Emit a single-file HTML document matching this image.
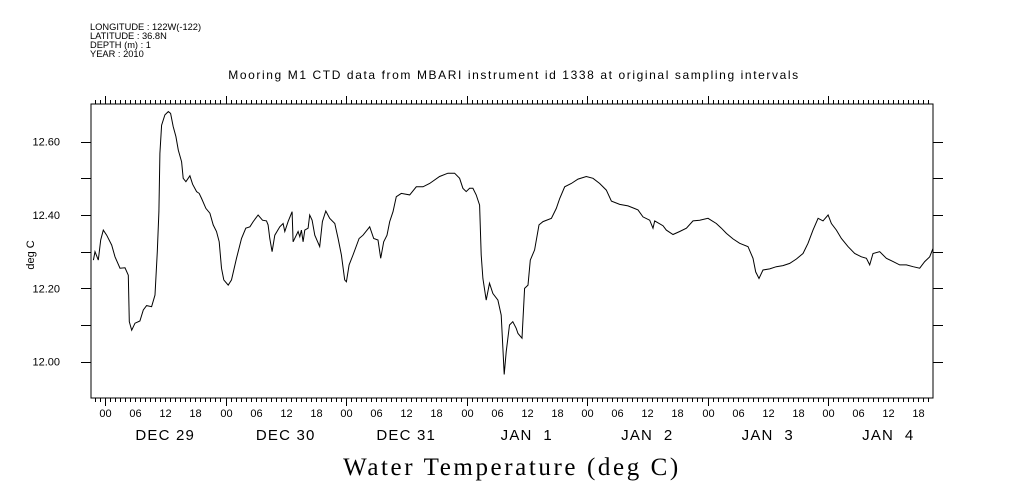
<!DOCTYPE html>
<html><head><meta charset="utf-8"><style>
html,body{margin:0;padding:0;background:#fff;}
svg{display:block;font-family:"Liberation Sans",sans-serif;}
text{white-space:pre;}
</style></head><body>
<svg id="chart" width="1009" height="504" viewBox="0 0 1009 504">
<g font-size="9.3" fill="#000">
<text x="90" y="30">LONGITUDE : 122W(-122)</text>
<text x="90" y="39">LATITUDE : 36.8N</text>
<text x="90" y="48">DEPTH (m) : 1</text>
<text x="90" y="57">YEAR : 2010</text>
</g>
<text x="514" y="79" font-size="12" text-anchor="middle" letter-spacing="1.6">Mooring M1 CTD data from MBARI instrument id 1338 at original sampling intervals</text>
<text transform="translate(34,255) rotate(-90)" font-size="11" text-anchor="middle">deg C</text>
<text x="512" y="475" font-family="'Liberation Serif',serif" font-size="25" text-anchor="middle" letter-spacing="2.6">Water Temperature (deg C)</text>
<rect x="91" y="104" width="842" height="294" fill="none" stroke="#000" stroke-width="1"/>
<g id="axes"></g>
<path id="series" fill="none" stroke="#000" stroke-width="1"/>
</svg>
<script>
const hours = [-2.32,-1.99,-1.33,-0.86,-0.33,0.33,1.33,1.99,2.98,3.98,4.64,4.84,5.31,5.97,6.96,7.63,8.29,9.28,9.95,10.41,10.74,10.94,11.27,11.94,12.60,13.06,13.59,14.12,14.59,15.25,15.58,16.11,16.91,17.44,18.24,18.77,19.23,20.09,20.89,21.55,22.21,22.75,23.21,23.67,24.54,25.20,26.19,27.19,28.05,28.85,29.51,30.50,31.37,32.16,32.49,32.82,33.29,33.82,34.81,35.48,35.81,36.47,37.27,37.47,38.46,38.79,39.12,39.46,39.79,40.45,40.78,41.25,41.78,42.77,43.30,43.97,44.76,45.76,46.42,47.08,47.75,48.08,48.61,49.40,50.60,51.39,52.72,53.51,54.38,54.91,55.50,56.17,56.70,57.36,58.02,59.02,60.68,62.00,63.33,64.66,66.64,68.30,69.63,70.62,71.29,71.95,72.61,73.28,73.94,74.60,74.93,75.27,75.93,76.59,77.25,78.25,78.91,79.24,79.51,79.91,80.57,81.23,81.90,82.25,83.05,83.58,84.25,84.71,85.57,86.44,87.24,88.90,89.89,90.56,91.55,92.88,94.21,95.87,97.20,98.52,99.85,100.85,102.51,104.17,106.16,107.16,108.48,109.15,109.48,111.14,111.80,113.13,114.46,115.79,117.12,118.44,120.10,121.76,122.76,123.76,125.08,126.41,128.07,129.07,129.60,130.26,131.06,132.39,133.71,135.04,136.37,137.70,139.03,140.02,141.02,142.02,143.01,144.01,144.67,145.67,146.66,147.99,149.32,150.65,151.64,152.31,152.97,154.30,155.63,156.96,158.28,159.61,160.94,162.27,163.26,164.26,164.92];
const temps = [12.277,12.300,12.277,12.332,12.359,12.345,12.318,12.286,12.255,12.256,12.236,12.109,12.086,12.105,12.111,12.141,12.153,12.150,12.182,12.300,12.409,12.568,12.645,12.673,12.682,12.677,12.641,12.614,12.577,12.545,12.500,12.491,12.507,12.484,12.464,12.459,12.445,12.418,12.405,12.373,12.355,12.327,12.255,12.223,12.209,12.223,12.282,12.336,12.364,12.368,12.382,12.400,12.386,12.384,12.373,12.336,12.300,12.345,12.368,12.377,12.355,12.382,12.409,12.327,12.355,12.341,12.359,12.327,12.359,12.364,12.400,12.386,12.345,12.314,12.382,12.411,12.391,12.377,12.336,12.291,12.223,12.218,12.264,12.291,12.336,12.345,12.368,12.336,12.332,12.282,12.327,12.345,12.382,12.409,12.450,12.459,12.455,12.477,12.477,12.486,12.505,12.514,12.514,12.500,12.473,12.464,12.473,12.473,12.455,12.427,12.291,12.227,12.168,12.214,12.186,12.168,12.127,12.036,11.965,12.027,12.100,12.109,12.091,12.077,12.064,12.200,12.209,12.277,12.305,12.373,12.382,12.391,12.418,12.445,12.477,12.486,12.498,12.505,12.500,12.486,12.468,12.438,12.429,12.425,12.414,12.395,12.386,12.364,12.384,12.371,12.359,12.347,12.355,12.364,12.384,12.386,12.391,12.377,12.364,12.350,12.335,12.323,12.314,12.282,12.245,12.227,12.250,12.253,12.259,12.262,12.268,12.280,12.295,12.323,12.359,12.391,12.384,12.400,12.377,12.359,12.336,12.314,12.295,12.286,12.282,12.264,12.295,12.300,12.282,12.273,12.264,12.264,12.259,12.255,12.273,12.286,12.309];
const yTickLabels = ["12.00","12.20","12.40","12.60"];
const dayLabels = ["DEC 29","DEC 30","DEC 31","JAN  1","JAN  2","JAN  3","JAN  4"];
const hourLabels = ["00","06","12","18"];

const X0=105, PXH=120.5/24, LEFT=91, RIGHT=933, TOP=104, BOT=398;
function xs(h){return X0+h*PXH;}
function ys(v){return 361.7-(v-12.0)*366.7;}
const NS="http://www.w3.org/2000/svg";
const ax=document.getElementById('axes');
function line(x1,y1,x2,y2,name){
  const l=document.createElementNS(NS,'line');
  l.setAttribute('x1',x1);l.setAttribute('y1',y1);l.setAttribute('x2',x2);l.setAttribute('y2',y2);
  l.setAttribute('stroke','#000');l.setAttribute('stroke-width','1');
  
  
  ax.appendChild(l);
}
function text(x,y,s,size,anchor,name,ls){
  const t=document.createElementNS(NS,'text');
  t.setAttribute('x',x);t.setAttribute('y',y);t.setAttribute('font-size',size);
  t.setAttribute('text-anchor',anchor);t.textContent=s;
  if(ls)t.setAttribute('letter-spacing',ls);
  
  
  ax.appendChild(t);
}
for(let h=-2;h<=165;h++){
  const x=Math.round(xs(h))+0.5;
  if(x<LEFT||x>RIGHT)continue;
  const major=(h%24===0);
  const len=major?8:4;
  line(x,TOP,x,TOP-len,'x-tick-top');
  line(x,BOT,x,BOT+len,'x-tick-bottom');
  if(h%6===0){
    text(x,417,hourLabels[((h%24)+24)%24/6],11,'middle','x-hour-label');
  }
}
for(let d=0;d<dayLabels.length;d++){
  text(xs(d*24+12),440,dayLabels[d],15,'middle','x-day-label','1.2');
}
for(let i=0;i<=7;i++){
  const v=11.9+i*0.1;
  const y=Math.round(ys(v))+0.5;
  if(y<TOP||y>BOT)continue;
  line(LEFT-10,y,LEFT,y,'y-tick-left');
  line(RIGHT,y,RIGHT+10,y,'y-tick-right');
}
for(let i=0;i<yTickLabels.length;i++){
  const v=parseFloat(yTickLabels[i]);
  text(60,ys(v)+4,yTickLabels[i],11,'end','y-tick-label');
}
let d='';
for(let i=0;i<hours.length;i++){
  d+=(i?'L':'M')+xs(hours[i]).toFixed(1)+' '+ys(temps[i]).toFixed(1);
}
document.getElementById('series').setAttribute('d',d);
</script>
</body></html>
